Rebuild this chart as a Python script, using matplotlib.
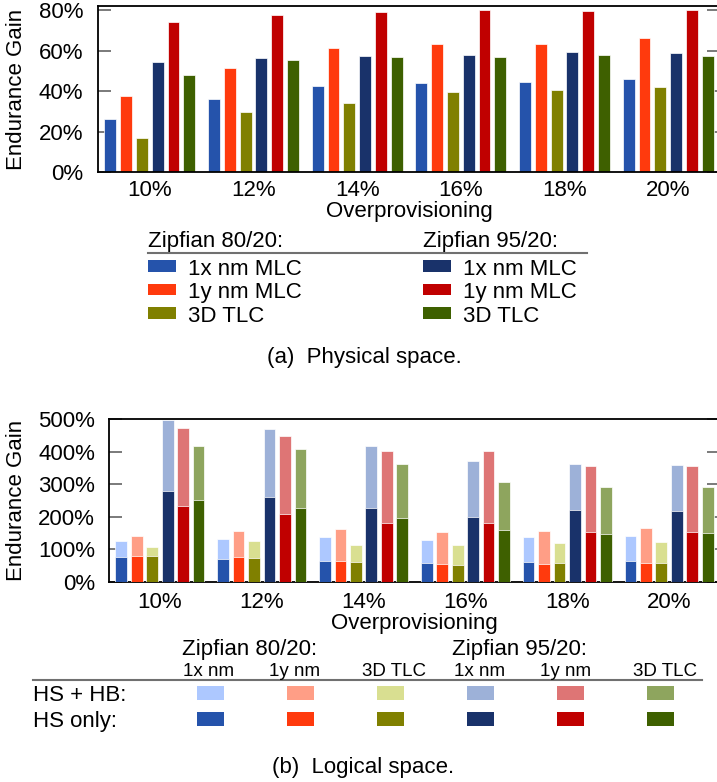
import matplotlib
matplotlib.use("Agg")
import matplotlib.pyplot as plt
from matplotlib.patches import Rectangle
from matplotlib.lines import Line2D

plt.rcParams['font.family'] = ['Liberation Sans', 'DejaVu Sans']

# ---------------- data ----------------
overprov = ["10%", "12%", "14%", "16%", "18%", "20%"]

# (a) physical space, endurance gain in %
phys_8020_1x = [26.2, 36.2, 42.5, 44.1, 44.3, 45.9]
phys_8020_1y = [37.7, 51.5, 61.1, 63.4, 63.4, 66.0]
phys_8020_3d = [16.8, 29.5, 34.2, 39.5, 40.6, 42.0]
phys_9520_1x = [54.3, 56.1, 57.3, 57.8, 59.1, 58.8]
phys_9520_1y = [74.0, 77.5, 79.0, 80.0, 79.7, 80.0]
phys_9520_3d = [47.9, 55.5, 56.6, 56.9, 57.6, 57.4]

# (b) logical space, HS + HB (total) and HS only
log_hshb_8020_1x = [124.5, 132.7, 136.7, 128.6, 136.7, 142.0]
log_hshb_8020_1y = [141.8, 155.0, 164.0, 152.0, 156.0, 167.0]
log_hshb_8020_3d = [107.0, 124.5, 115.0, 112.0, 120.0, 123.5]
log_hshb_9520_1x = [498.0, 470.0, 418.0, 372.0, 362.0, 359.0]
log_hshb_9520_1y = [472.0, 449.0, 403.0, 402.0, 357.0, 357.0]
log_hshb_9520_3d = [416.0, 408.0, 362.0, 307.0, 292.0, 292.0]

log_hs_8020_1x = [77.6, 69.4, 65.3, 58.0, 62.0, 64.0]
log_hs_8020_1y = [78.6, 75.5, 65.3, 54.0, 55.0, 59.0]
log_hs_8020_3d = [78.6, 73.5, 60.0, 52.0, 57.0, 57.0]
log_hs_9520_1x = [280.6, 260.0, 226.5, 199.0, 221.0, 219.0]
log_hs_9520_1y = [231.6, 210.0, 181.6, 179.6, 154.0, 153.0]
log_hs_9520_3d = [251.0, 225.5, 195.0, 159.0, 148.0, 149.0]

legend_a_labels = ["1x nm MLC", "1y nm MLC", "3D TLC"]
legend_groups = ["Zipfian 80/20:", "Zipfian 95/20:"]
legend_b_labels = ["1x nm", "1y nm", "3D TLC", "1x nm", "1y nm", "3D TLC"]
legend_b_rows = ["HS + HB:", "HS only:"]

dark_colors = ["#2553AB", "#FF3A0D", "#808000", "#19326A", "#C00000", "#3E6000"]
light_colors = ["#ADC8FF", "#FF9E86", "#D9DF91", "#9DB1D8", "#DE7575", "#8EA55E"]

phys_series = [phys_8020_1x, phys_8020_1y, phys_8020_3d,
               phys_9520_1x, phys_9520_1y, phys_9520_3d]
log_total = [log_hshb_8020_1x, log_hshb_8020_1y, log_hshb_8020_3d,
             log_hshb_9520_1x, log_hshb_9520_1y, log_hshb_9520_3d]
log_hs = [log_hs_8020_1x, log_hs_8020_1y, log_hs_8020_3d,
          log_hs_9520_1x, log_hs_9520_1y, log_hs_9520_3d]

# ---------------- figure ----------------
W, H = 717, 782
fig = plt.figure(figsize=(W / 100, H / 100), dpi=100)

def frac(x0, y0, x1, y1):
    return [x0 / W, 1 - y1 / H, (x1 - x0) / W, (y1 - y0) / H]

FS = 16
step = 0.152
bw = 0.115
centers = [i + 0.5 for i in range(len(overprov))]

def style_axes(ax, ymax, yticks, ypad, xpad, xlabelpad, ylabel_x):
    ax.set_xlim(0, len(overprov))
    ax.set_ylim(0, ymax)
    ax.set_xticks(centers)
    ax.set_xticklabels(overprov)
    ax.set_yticks(yticks)
    ax.set_yticklabels([f"{int(t)}%" for t in yticks])
    ax.tick_params(axis='y', direction='in', length=9.5, width=1.3,
                   color='#707070', left=True, right=True, labelsize=FS, pad=ypad)
    ax.tick_params(axis='x', length=0, labelsize=FS, pad=xpad)
    for s in ['left', 'bottom', 'top']:
        ax.spines[s].set_color('black')
        ax.spines[s].set_linewidth(1.3)
    ax.spines['right'].set_visible(False)
    ax.set_xlabel("Overprovisioning", fontsize=FS, labelpad=xlabelpad)
    ax.set_ylabel("Endurance Gain", fontsize=FS)
    ax.yaxis.label.set_va('center')
    ax.yaxis.set_label_coords(ylabel_x, 0.5)
    ax.set_axisbelow(True)

# ---- (a) physical space ----
axa = fig.add_axes(frac(98, 6, 720, 172))
for j, vals in enumerate(phys_series):
    xs = [c + (j - 2.5) * step for c in centers]
    axa.bar(xs, vals, width=bw, color=dark_colors[j], edgecolor='#ffffff',
            linewidth=0.5, zorder=2)
style_axes(axa, 82, [0, 20, 40, 60, 80], ypad=10.5, xpad=6, xlabelpad=0,
           ylabel_x=(16.5 - 98) / 622)

# ---- (b) logical space ----
axb = fig.add_axes(frac(109, 419, 720, 582))
for j in range(6):
    xs = [c + (j - 2.5) * step for c in centers]
    axb.bar(xs, log_total[j], width=bw, color=light_colors[j], edgecolor='#ffffff',
            linewidth=0.5, zorder=2)
    axb.bar(xs, log_hs[j], width=bw, color=dark_colors[j], edgecolor='#ffffff',
            linewidth=0.5, zorder=3)
style_axes(axb, 500, [0, 100, 200, 300, 400, 500], ypad=10, xpad=7, xlabelpad=0,
           ylabel_x=(16.5 - 109) / 611)

# ---------------- legends (pixel overlay) ----------------
ov = fig.add_axes([0, 0, 1, 1])
ov.set_xlim(0, W)
ov.set_ylim(H, 0)
ov.axis('off')
ov.set_zorder(5)

# legend (a)
col_x = [148, 423]
for g in range(2):
    ov.text(col_x[g], 246.7, legend_groups[g], fontsize=FS, ha='left', va='baseline')
    for r in range(3):
        yc = 266.2 + r * 23.5
        ov.add_patch(Rectangle((col_x[g], yc - 5.75), 28, 11.5,
                               color=dark_colors[g * 3 + r], lw=0))
        ov.text(col_x[g] + 40, yc + 8.5, legend_a_labels[r], fontsize=FS,
                ha='left', va='baseline')
ov.add_line(Line2D([148, 587], [252.5, 252.5], color='#707070', lw=1.5))
ov.text(364, 363, "(a)  Physical space.", fontsize=FS, ha='center', va='baseline')

# legend (b)
ov.text(182, 655, legend_groups[0], fontsize=FS, ha='left', va='baseline')
ov.text(452, 655, legend_groups[1], fontsize=FS, ha='left', va='baseline')
sub_x = [209, 295, 394, 480, 566, 665]
for k in range(6):
    ov.text(sub_x[k], 676, legend_b_labels[k], fontsize=13.5, ha='center', va='baseline')
ov.add_line(Line2D([33, 702], [680, 680], color='#707070', lw=1.5))
patch_x = [210, 300, 390, 480, 570, 660]
row_y = [693, 719]
ov.text(33, 700.7, legend_b_rows[0], fontsize=FS, ha='left', va='baseline')
ov.text(33, 726.7, legend_b_rows[1], fontsize=FS, ha='left', va='baseline')
for k in range(6):
    ov.add_patch(Rectangle((patch_x[k] - 13.5, row_y[0] - 7), 27, 14,
                           color=light_colors[k], lw=0))
    ov.add_patch(Rectangle((patch_x[k] - 13.5, row_y[1] - 7), 27, 14,
                           color=dark_colors[k], lw=0))
ov.text(363, 773, "(b)  Logical space.", fontsize=FS, ha='center', va='baseline')

fig.savefig("out.png", dpi=100)
